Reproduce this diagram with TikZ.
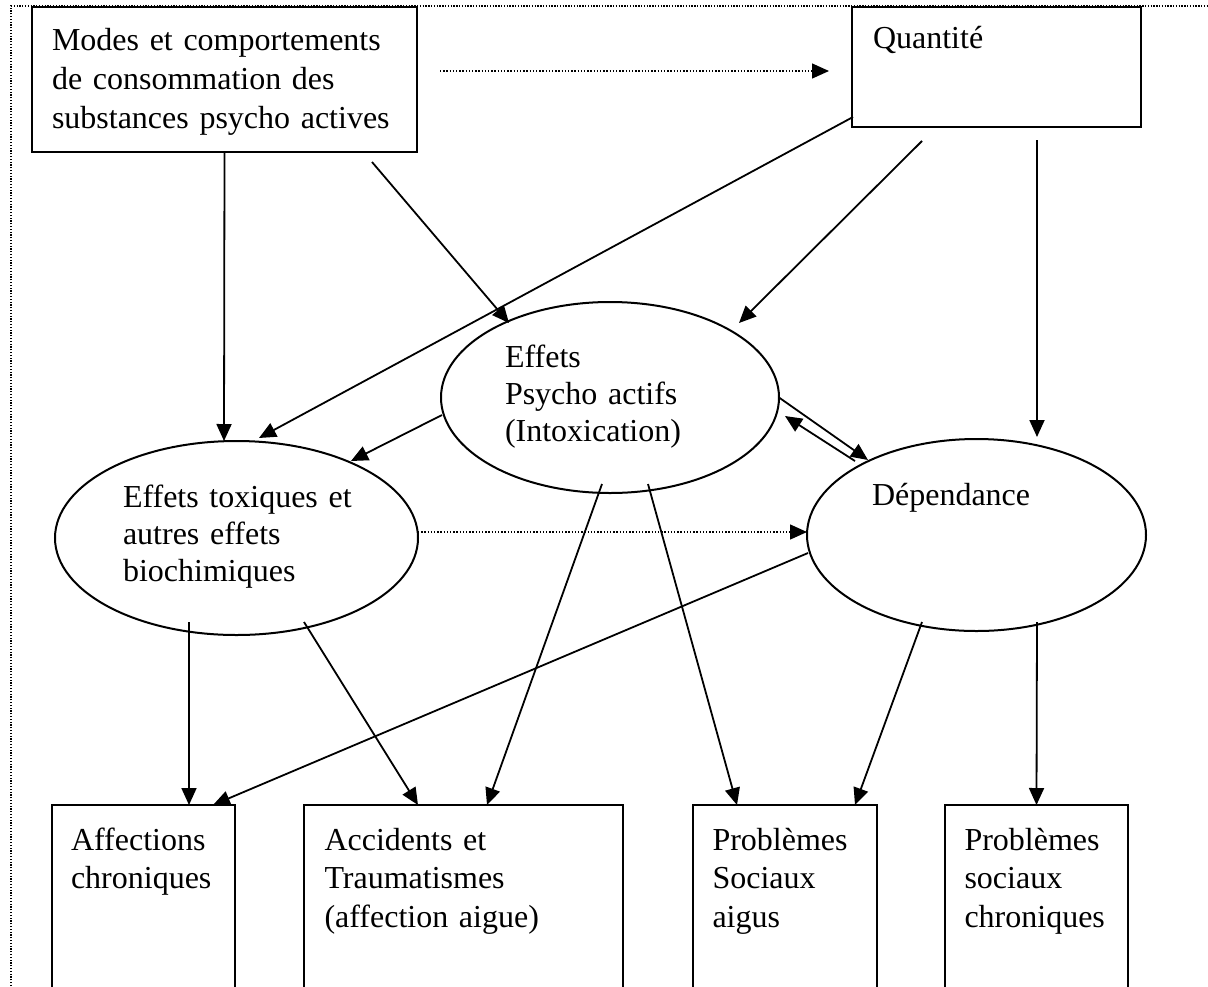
\documentclass[tikz,border=0pt]{standalone}
\usepackage{fontspec}
\setmainfont{Liberation Serif}
\usetikzlibrary{arrows.meta,calc,shapes.geometric}
\begin{document}
\begin{tikzpicture}[x=1pt,y=-1pt,
  box/.style={draw,line width=2.2pt,rectangle,inner sep=0pt,outer sep=0pt},
  oval/.style={draw,line width=2pt,ellipse,inner sep=0pt,outer sep=0pt},
  txt/.style={anchor=base west,inner sep=0pt,outer sep=0pt,align=left,text width=400pt,font=\fontsize{32pt}{#1}\selectfont},
  arr/.style={-{Triangle[length=17pt,width=15pt]},line width=1.8pt},
  dotarr/.style={-{Triangle[length=17pt,width=15pt]},line width=1.4pt,dash pattern=on 1.3pt off 1.9pt},
  frame/.style={line width=1.4pt,dash pattern=on 1.3pt off 1.5pt}
]
\useasboundingbox (0,0) rectangle (1208,986);
\clip (0,0) rectangle (1208,986);
\draw[frame] (11,1000) -- (11,6) -- (1220,6);

% boxes
\node[box,minimum width=385pt,minimum height=145pt] (modes) at (224.5,79.5) {};
\node[box,minimum width=289pt,minimum height=120pt] (quant) at (996.5,67) {};
\node[box,minimum width=183pt,minimum height=200pt] (affect) at (143.5,905) {};
\node[box,minimum width=319pt,minimum height=200pt] (acc) at (463.5,905) {};
\node[box,minimum width=184pt,minimum height=200pt] (psoc) at (785,905) {};
\node[box,minimum width=183pt,minimum height=200pt] (chron) at (1036.5,905) {};

% ellipses
\node[oval,minimum width=338pt,minimum height=191pt] (eff) at (610,397.5) {};
\node[oval,minimum width=363pt,minimum height=194pt] (tox) at (236.5,538) {};
\node[oval,minimum width=339pt,minimum height=192pt] (dep) at (976.5,535) {};

% texts
\node[txt=39pt] (modesT) at (52,50) {Modes et comportements\\de consommation des\\substances psycho actives};
\node[txt=37pt] (quantT) at (873,48) {Quantité};
\node[txt=37pt] (effT) at (505,367) {Effets\\Psycho actifs\\(Intoxication)};
\node[txt=37pt] (toxT) at (123,507) {Effets toxiques et\\autres effets\\biochimiques};
\node[txt=37pt] (depT) at (872,505) {Dépendance};
\node[txt=38.5pt] (affectT) at (71,850) {Affections\\chroniques};
\node[txt=38.5pt] (accT) at (324.5,850) {Accidents et\\Traumatismes\\(affection aigue)};
\node[txt=38.5pt] (psocT) at (712.5,850) {Problèmes\\Sociaux\\aigus};
\node[txt=38.5pt] (chronT) at (964.5,850) {Problèmes\\sociaux\\chroniques};

% connectors
\draw[arr] (modes.south) -- ($(tox.center)+(-12.5,-97)$);
\draw[arr] ($(modes.south east)+(-45,10)$) -- ($(eff.center)+(-101,-74.5)$);
\draw[arr] ($(quant.south west)+(1,-10)$) -- ($(tox.center)+(22.5,-100)$);
\draw[arr] ($(quant.south west)+(70,14)$) -- ($(eff.center)+(129,-74.5)$);
\draw[arr] ($(quant.south west)+(185,13)$) -- ($(dep.center)+(60.5,-98)$);
\draw[arr] ($(eff.center)+(-168,17.5)$) -- ($(tox.center)+(114.5,-77)$);
\draw[arr] (eff.east) -- ($(dep.center)+(-108.5,-75)$);
\draw[arr] ($(dep.center)+(-121.5,-74)$) -- ($(eff.center)+(175,18.5)$);
\draw[dotarr] ($(tox.east)+(0,-6)$) -- ($(dep.west)+(0,-3)$);
\draw[dotarr] ($(modes.east)+(23,-8.5)$) -- ($(quant.west)+(-23,4)$);
\draw[arr] ($(tox.center)+(-47.5,84)$) -- ($(affect.north)+(45.5,0)$);
\draw[arr] ($(tox.center)+(67.5,84)$) -- ($(acc.north)+(-45.5,0)$);
\draw[arr] ($(dep.center)+(-168.5,18)$) -- ($(affect.north)+(69.5,0)$);
\draw[arr] ($(eff.center)+(-8,86.5)$) -- ($(acc.north)+(23.5,0)$);
\draw[arr] ($(eff.center)+(38,86.5)$) -- ($(psoc.north)+(-48,0)$);
\draw[arr] ($(dep.center)+(-54.5,87)$) -- ($(psoc.north)+(70,0)$);
\draw[arr] ($(dep.center)+(60.5,87)$) -- (chron.north);
\end{tikzpicture}
\end{document}
